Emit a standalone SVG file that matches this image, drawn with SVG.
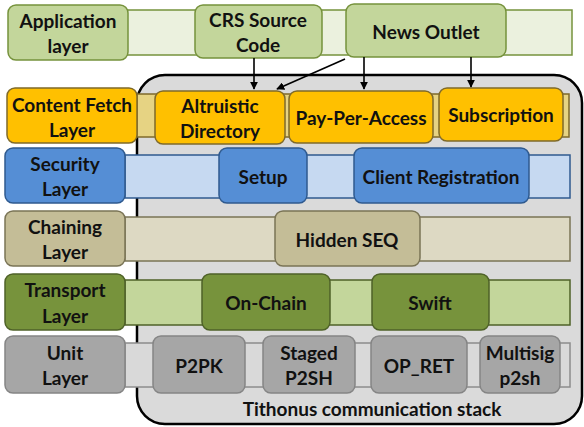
<svg xmlns="http://www.w3.org/2000/svg" width="584" height="427" viewBox="0 0 584 427">
<defs>
<marker id="ah" viewBox="0 0 10 10" refX="9" refY="5" markerWidth="5" markerHeight="5" orient="auto"><path d="M0,0 L10,5 L0,10 z" fill="#000"/></marker>
<style>
text{font-family:Lato,"Open Sans","Liberation Sans",sans-serif;font-weight:bold;font-size:19px;fill:#111;text-anchor:middle;dominant-baseline:central}
.b{stroke-width:1.5}
.app{fill:#c3d69b;stroke:#76923c}
.appb{fill:#ebf1de;stroke:#76923c}
.cf{fill:#ffc000;stroke:#7f6a2a}
.cfb{fill:#e6d383;stroke:#7f6a2a}
.sec{fill:#558ed5;stroke:#2f5a8f}
.secb{fill:#c6d9f1;stroke:#2f5a8f}
.ch{fill:#c4bd97;stroke:#7a7456}
.chb{fill:#ddd9c3;stroke:#7a7456}
.tr{fill:#77933c;stroke:#4f6228}
.trb{fill:#c3d69b;stroke:#4f6228}
.un{fill:#a6a6a6;stroke:#858585}
.unb{fill:#d9d9d9;stroke:#8c8c8c}
.conn line{stroke:#000;stroke-width:1.6;marker-end:url(#ah)}
</style>
</defs>
<rect width="584" height="427" fill="#fff"/>
<g id="container">
<rect x="137" y="75" width="445" height="349" rx="28" fill="#dadada" stroke="#000" stroke-width="2.5"/>
<text x="372" y="408">Tithonus communication stack</text>
</g>
<g id="bands">
<rect class="appb b" x="127" y="10" width="445" height="45"/>
<rect class="cfb b" x="137" y="94" width="432" height="43"/>
<rect class="secb b" x="125" y="155" width="445" height="43"/>
<rect class="chb b" x="125" y="217" width="445" height="44"/>
<rect class="trb b" x="125" y="280" width="445" height="45"/>
<rect class="unb b" x="125" y="343" width="445" height="44"/>
</g>
<g id="app-layer"><rect class="app b" x="8" y="5" width="120" height="55" rx="8"/><text x="68" y="20">Application</text><text x="68" y="45">layer</text></g>
<g id="crs"><rect class="app b" x="195" y="5" width="127" height="53" rx="8"/><text x="258" y="19">CRS Source</text><text x="258" y="44">Code</text></g>
<g id="news"><rect class="app b" x="346" y="4" width="160" height="53" rx="8"/><text x="426" y="31">News Outlet</text></g>
<g id="cf-layer"><rect class="cf b" x="7" y="88" width="130" height="55" rx="8"/><text x="72" y="104">Content Fetch</text><text x="72" y="129">Layer</text></g>
<g id="altruistic"><rect class="cf b" x="155" y="91" width="130" height="53" rx="8"/><text x="220" y="105">Altruistic</text><text x="220" y="130">Directory</text></g>
<g id="ppa"><rect class="cf b" x="289" y="91" width="144" height="52" rx="8"/><text x="361" y="117">Pay-Per-Access</text></g>
<g id="subscription"><rect class="cf b" x="439" y="88" width="124" height="53" rx="8"/><text x="501" y="114">Subscription</text></g>
<g id="sec-layer"><rect class="sec b" x="5" y="148" width="120" height="55" rx="8"/><text x="65" y="163">Security</text><text x="65" y="188">Layer</text></g>
<g id="setup"><rect class="sec b" x="219" y="148" width="88" height="55" rx="8"/><text x="263" y="176">Setup</text></g>
<g id="clientreg"><rect class="sec b" x="354" y="148" width="175" height="55" rx="8"/><text x="441" y="176">Client Registration</text></g>
<g id="ch-layer"><rect class="ch b" x="5" y="211" width="120" height="55" rx="8"/><text x="65" y="226">Chaining</text><text x="65" y="251">Layer</text></g>
<g id="hiddenseq"><rect class="ch b" x="275" y="211" width="145" height="55" rx="8"/><text x="347" y="239">Hidden SEQ</text></g>
<g id="tr-layer"><rect class="tr b" x="5" y="274" width="120" height="56" rx="8"/><text x="65" y="289">Transport</text><text x="65" y="315">Layer</text></g>
<g id="onchain"><rect class="tr b" x="202" y="274" width="128" height="56" rx="8"/><text x="266" y="302">On-Chain</text></g>
<g id="swift"><rect class="tr b" x="372" y="274" width="117" height="56" rx="8"/><text x="430" y="302">Swift</text></g>
<g id="unit-layer"><rect class="un b" x="5" y="336" width="120" height="57" rx="8"/><text x="65" y="352">Unit</text><text x="65" y="377">Layer</text></g>
<g id="p2pk"><rect class="un b" x="153" y="336" width="92" height="57" rx="8"/><text x="199" y="365">P2PK</text></g>
<g id="staged"><rect class="un b" x="263" y="336" width="92" height="57" rx="8"/><text x="309" y="352">Staged</text><text x="309" y="377">P2SH</text></g>
<g id="opret"><rect class="un b" x="371" y="336" width="96" height="57" rx="8"/><text x="419" y="365">OP_RET</text></g>
<g id="multisig"><rect class="un b" x="480" y="336" width="80" height="57" rx="8"/><text x="520" y="352">Multisig</text><text x="520" y="377">p2sh</text></g>
<g id="connectors" class="conn">
<line x1="254" y1="58" x2="254" y2="89"/>
<line x1="364" y1="57" x2="364" y2="89"/>
<line x1="471" y1="57" x2="471" y2="87"/>
<line x1="345" y1="59" x2="277" y2="89"/>
</g>
</svg>
